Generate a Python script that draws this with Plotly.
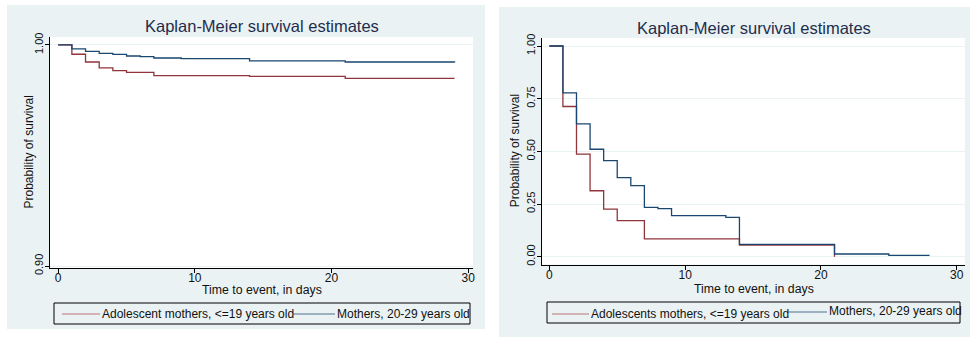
import plotly.graph_objects as go

# ---- data: Kaplan-Meier survival estimates, two study panels ----
# Panel A (left)
days_adol_a = [0, 1, 2, 3, 4, 5, 7, 14, 21, 29]
surv_adol_a = [1.0, 0.9958, 0.9923, 0.9896, 0.9884, 0.9876, 0.9861, 0.9858, 0.9849, 0.9849]
days_moth_a = [0, 1, 2, 3, 4, 5, 6, 7, 9, 14, 21, 29]
surv_moth_a = [1.0, 0.9982, 0.9971, 0.9962, 0.9957, 0.9950, 0.9947, 0.9941, 0.9938, 0.9928, 0.9923, 0.9921]

# Panel B (right)
days_adol_b = [0, 1, 2, 3, 4, 5, 7, 14, 21]
surv_adol_b = [1.0, 0.713, 0.487, 0.313, 0.226, 0.171, 0.085, 0.0555, 0.0]
days_moth_b = [0, 1, 2, 3, 4, 5, 6, 7, 8, 9, 13, 14, 21, 25, 28]
surv_moth_b = [1.0, 0.778, 0.630, 0.510, 0.456, 0.375, 0.337, 0.234, 0.228, 0.195, 0.187,
               0.0588, 0.0128, 0.0066, 0.0066]

x_ticks = [0, 10, 20, 30]
y_ticks_a = [0.90, 1.00]
y_ticks_b = [0.00, 0.25, 0.50, 0.75, 1.00]

title_text = "Kaplan-Meier survival estimates"
x_title = "Time to event, in days"
y_title = "Probability of survival"
legend_a = ["Adolescent mothers, <=19 years old", "Mothers, 20-29 years old"]
legend_b = ["Adolescents mothers, <=19 years old", "Mothers, 20-29 years old"]

# ---- styling ----
W, H = 977, 338
FONT = "Liberation Sans, Arial, sans-serif"
RED = "#90353b"
BLUE = "#1a476f"
REGION = "#eaf2f3"
GRID = "#eaf2f3"
TITLE_COLOR = "#1f2d4d"


def px_x(v):
    return v / W


def px_y(v):
    return 1 - v / H


# plot-region pixel boxes (left, top, right, bottom)
box_a = (50, 37, 473, 268)
box_b = (542, 38, 965, 264.5)

fig = go.Figure()

fig.add_trace(go.Scatter(x=days_adol_a, y=surv_adol_a, mode="lines", line_shape="hv",
                         line=dict(color=RED, width=1.3), name=legend_a[0],
                         xaxis="x", yaxis="y"))
fig.add_trace(go.Scatter(x=days_moth_a, y=surv_moth_a, mode="lines", line_shape="hv",
                         line=dict(color=BLUE, width=1.3), name=legend_a[1],
                         xaxis="x", yaxis="y"))
fig.add_trace(go.Scatter(x=days_adol_b, y=surv_adol_b, mode="lines", line_shape="hv",
                         line=dict(color=RED, width=1.3), name=legend_b[0],
                         xaxis="x2", yaxis="y2"))
fig.add_trace(go.Scatter(x=days_moth_b, y=surv_moth_b, mode="lines", line_shape="hv",
                         line=dict(color=BLUE, width=1.3), name=legend_b[1],
                         xaxis="x2", yaxis="y2"))

x_common = dict(tickmode="array", tickvals=x_ticks, ticks="outside", ticklen=4,
                tickcolor="black", showline=True, linecolor="black", linewidth=1,
                showgrid=False, zeroline=False, ticklabelstandoff=-5, automargin=False,
                tickfont=dict(family=FONT, size=12, color="#111"))
y_common = dict(ticks="outside", ticklen=4, tickcolor="black", showline=True,
                linecolor="black", linewidth=1, showgrid=True, gridcolor=GRID,
                gridwidth=1, zeroline=False, tickangle=-90, ticklabelstandoff=-2,
                automargin=False,
                tickfont=dict(family=FONT, size=11, color="#111"))

fig.update_layout(
    width=W, height=H,
    margin=dict(l=0, r=0, t=0, b=0),
    paper_bgcolor="white", plot_bgcolor="white",
    showlegend=False,
    xaxis=dict(domain=[px_x(box_a[0]), px_x(box_a[2])], range=[-0.6, 30.35],
               anchor="y", **x_common),
    yaxis=dict(domain=[px_y(box_a[3]), px_y(box_a[1])], range=[0.8991, 1.0036],
               anchor="x", tickmode="array", tickvals=y_ticks_a,
               ticktext=[f"{v:.2f}" for v in y_ticks_a], **y_common),
    xaxis2=dict(domain=[px_x(box_b[0]), px_x(box_b[2])], range=[-0.54, 30.61],
                anchor="y2", **x_common),
    yaxis2=dict(domain=[px_y(box_b[3]), px_y(box_b[1])], range=[-0.037, 1.038],
                anchor="x2", tickmode="array", tickvals=y_ticks_b,
                ticktext=[f"{v:.2f}" for v in y_ticks_b], **y_common),
)

shapes = []
# graph regions (light background for each panel)
for (x0, y0, x1, y1) in [(7, 5, 485, 329), (499, 7, 970, 337)]:
    shapes.append(dict(type="rect", xref="paper", yref="paper", layer="below",
                       x0=px_x(x0), x1=px_x(x1), y0=px_y(y1), y1=px_y(y0),
                       fillcolor=REGION, line=dict(width=0)))
# white plot regions
for (x0, y0, x1, y1) in [box_a, box_b]:
    shapes.append(dict(type="rect", xref="paper", yref="paper", layer="below",
                       x0=px_x(x0), x1=px_x(x1), y0=px_y(y1), y1=px_y(y0),
                       fillcolor="white", line=dict(width=0)))

annotations = []
# legends drawn as a boxed key under each panel
legend_specs = [
    dict(box=(54, 303, 470, 324), red=(62, 100, 314), blue=(293, 335, 314),
         ty=(313.5, 313.5), labels=legend_a),
    dict(box=(547, 302, 960, 323), red=(552, 589, 314), blue=(788, 827, 312),
         ty=(314, 311), labels=legend_b),
]
for spec in legend_specs:
    bx0, by0, bx1, by1 = spec["box"]
    shapes.append(dict(type="rect", xref="paper", yref="paper", layer="above",
                       x0=px_x(bx0), x1=px_x(bx1), y0=px_y(by1), y1=px_y(by0),
                       fillcolor="rgba(0,0,0,0)", line=dict(color="black", width=1)))
    for (sx0, sx1, sy), col, lab, ty in [(spec["red"], "#b9767b", spec["labels"][0], spec["ty"][0]),
                                         (spec["blue"], "#4f7394", spec["labels"][1], spec["ty"][1])]:
        shapes.append(dict(type="line", xref="paper", yref="paper", layer="above",
                           x0=px_x(sx0), x1=px_x(sx1), y0=px_y(sy), y1=px_y(sy),
                           line=dict(color=col, width=1.2)))
        annotations.append(dict(xref="paper", yref="paper", x=px_x(sx1), y=px_y(ty),
                                xanchor="left", yanchor="middle", showarrow=False,
                                text=lab, font=dict(family=FONT, size=12, color="#111")))

# panel titles and axis titles
for box, ttl_y, xt_y, yt_x in [(box_a, 26, 290, 29), (box_b, 28, 289, 515)]:
    cx = (box[0] + box[2]) / 2
    cy = (box[1] + box[3]) / 2
    annotations.append(dict(xref="paper", yref="paper", x=px_x(cx), y=px_y(ttl_y),
                            xanchor="center", yanchor="middle", showarrow=False,
                            text=title_text, font=dict(family=FONT, size=16.5, color=TITLE_COLOR)))
    annotations.append(dict(xref="paper", yref="paper", x=px_x(cx), y=px_y(xt_y),
                            xanchor="center", yanchor="middle", showarrow=False,
                            text=x_title, font=dict(family=FONT, size=12.3, color="#111")))
    annotations.append(dict(xref="paper", yref="paper", x=px_x(yt_x), y=px_y(cy),
                            xanchor="center", yanchor="middle", showarrow=False, textangle=-90,
                            text=y_title, font=dict(family=FONT, size=12, color="#111")))

fig.update_layout(shapes=shapes, annotations=annotations)
fig.write_html("out.html")
